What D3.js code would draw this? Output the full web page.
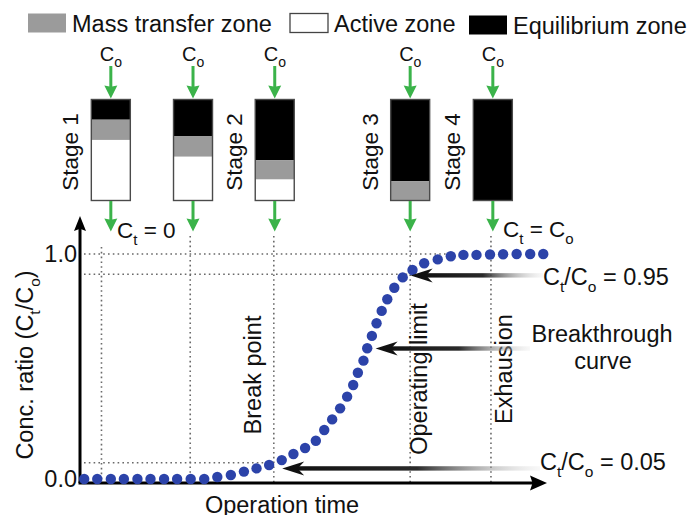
<!DOCTYPE html>
<html>
<head>
<meta charset="utf-8">
<script src="https://cdn.jsdelivr.net/npm/d3@7"></script>
<style>
  html, body { margin: 0; padding: 0; background: #fff; }
  svg { display: block; font-family: "Liberation Sans", Arial, sans-serif; }
</style>
</head>
<body>
<svg id="chart" width="693" height="515"></svg>
<script>
// breakthrough curve (arbitrary time units 0-100)
var opTime = [0.9, 3.7, 6.6, 9.4, 12.3, 15.1, 18.0, 20.8, 23.7, 26.6,
              29.4, 32.3, 35.1, 37.8, 40.5, 43.2, 45.7, 48.2, 50.5, 52.3,
              54.0, 55.7, 57.2, 58.5, 59.5, 60.7, 61.5, 62.5, 63.5, 64.6,
              65.8, 67.3, 69.1, 71.2, 73.7, 76.6, 79.4, 82.1, 84.9, 87.8,
              90.6, 93.5, 96.4, 99.2];
var concRatio = [0, 0, 0, 0, 0, 0, 0, 0, 0, 0,
                 0.009, 0.018, 0.033, 0.047, 0.062, 0.084, 0.111, 0.138, 0.170, 0.218,
                 0.265, 0.314, 0.366, 0.418, 0.472, 0.526, 0.581, 0.636, 0.692, 0.747,
                 0.799, 0.850, 0.896, 0.929, 0.959, 0.976, 0.990, 0.996, 0.996, 0.998,
                 0.999, 1, 1, 1];
var yTicks = [0, 1];
var yTickLabels = ["0.0", "1.0"];

// dotted guide lines (as drawn)
var guideTimes = [4.6, 23.6, 41.5, 70.7, 88.0];
var guideLabels = ["", "", "Break point", "Operating limit", "Exhausion"];
var guideLevels = [0.072, 0.91, 1.0];
var guideLevelEnds = [41.5, 70.7, 79.5];

// column stages
var columnTimes = [6.6, 24.2, 41.7, 70.7, 88.4];
var stageLabels = ["Stage 1", "", "Stage 2", "Stage 3", "Stage 4"];
var equilibriumFrac = [0.2, 0.365, 0.6, 0.81, 1.0];
var massTransferFrac = [0.2, 0.2, 0.19, 0.19, 0];

var legendNames = ["Mass transfer zone", "Active zone", "Equilibrium zone"];
var zoneColors = ["#9b9b9b", "#ffffff", "#000000"];

// annotation arrows: where they point (data units)
var noteTimes = [70.8, 63.3, 43.3];
var noteRatios = [0.905, 0.58, 0.047];

var svg = d3.select("#chart");
var FONT = 23.5;

var x = d3.scaleLinear().domain([0, 100]).range([80, 547]);
var y = d3.scaleLinear().domain([0, 1]).range([479, 254]);
var colY = d3.scaleLinear().domain([0, 1]).range([99.5, 200.5]);
var colW = 39;

var defs = svg.append("defs");
var grad = defs.append("linearGradient").attr("id", "fade")
    .attr("x1", "0%").attr("x2", "100%").attr("y1", "0%").attr("y2", "0%");
grad.append("stop").attr("offset", "0%").attr("stop-color", "#111");
grad.append("stop").attr("offset", "50%").attr("stop-color", "#2a2a2a");
grad.append("stop").attr("offset", "100%").attr("stop-color", "#ddd").attr("stop-opacity", 0.2);

// text with subscripts: parts = [[text, isSub], ...]
function richText(g, parts, size, subSize, subDy) {
  var t = g.append("text").attr("font-size", size).attr("fill", "#111");
  var down = false;
  parts.forEach(function (p) {
    var ts = t.append("tspan").text(p[0]);
    if (p[1]) {
      ts.attr("font-size", subSize).attr("dy", down ? 0 : subDy);
      down = true;
    } else {
      ts.attr("dy", down ? -subDy : 0);
      down = false;
    }
  });
  return t;
}

// arrow head path pointing in +x from origin tip
function headPath(len, wid, notch) {
  return "M0,0 L" + (-len) + "," + (-wid / 2) + " L" + (-len * notch) + ",0 L" + (-len) + "," + (wid / 2) + " Z";
}

// ---- legend ----
var legendX = [28, 290, 469];
var legendY = [13.5, 13.5, 15.5];
var legend = svg.append("g").selectAll("g").data(legendNames).enter().append("g");
legend.append("rect")
  .attr("x", function (d, i) { return legendX[i]; })
  .attr("y", function (d, i) { return legendY[i]; })
  .attr("width", 38).attr("height", 19)
  .attr("fill", function (d, i) { return zoneColors[i]; })
  .attr("stroke", function (d, i) { return i === 1 ? "#444" : "none"; })
  .attr("stroke-width", 1.3);
legend.append("text")
  .attr("x", function (d, i) { return legendX[i] + 44; })
  .attr("y", function (d, i) { return legendY[i] + 18.5; })
  .attr("font-size", FONT).attr("fill", "#111")
  .text(function (d) { return d; });

// ---- columns ----
var green = "#3bb34a";
columnTimes.forEach(function (t, i) {
  var cx = x(t);
  var g = svg.append("g");
  var eq = equilibriumFrac[i], mt = massTransferFrac[i];
  g.append("rect").attr("x", cx - colW / 2).attr("y", colY(0)).attr("width", colW)
    .attr("height", colY(1) - colY(0)).attr("fill", "#fff");
  g.append("rect").attr("x", cx - colW / 2).attr("y", colY(0)).attr("width", colW)
    .attr("height", colY(eq) - colY(0)).attr("fill", zoneColors[2]);
  if (mt > 0) {
    g.append("rect").attr("x", cx - colW / 2).attr("y", colY(eq)).attr("width", colW)
      .attr("height", colY(eq + mt) - colY(eq)).attr("fill", zoneColors[0]);
  }
  g.append("rect").attr("x", cx - colW / 2).attr("y", colY(0)).attr("width", colW)
    .attr("height", colY(1) - colY(0)).attr("fill", "none")
    .attr("stroke", "#4a4a4a").attr("stroke-width", 1.4);

  // inlet arrow + C_o
  g.append("line").attr("x1", cx).attr("x2", cx).attr("y1", 66).attr("y2", 88)
    .attr("stroke", green).attr("stroke-width", 3);
  g.append("path").attr("d", headPath(13, 13, 0.9))
    .attr("transform", "translate(" + cx + ",98.5) rotate(90)").attr("fill", green);
  richText(g, [["C", false], ["o", true]], 20, 14, 6.5)
    .attr("x", cx - 11).attr("y", 60.5);

  // outlet arrow
  g.append("line").attr("x1", cx).attr("x2", cx).attr("y1", 201).attr("y2", 221)
    .attr("stroke", green).attr("stroke-width", 3);
  g.append("path").attr("d", headPath(13, 13, 0.9))
    .attr("transform", "translate(" + cx + ",231.5) rotate(90)").attr("fill", green);

  if (stageLabels[i]) {
    g.append("text")
      .attr("transform", "translate(" + (cx - colW / 2 - 13) + ",152) rotate(-90)")
      .attr("text-anchor", "middle").attr("font-size", 22.5).attr("fill", "#111")
      .text(stageLabels[i]);
  }
});

richText(svg, [["C", false], ["t", true], [" = 0", false]], 22.5, 15, 7)
  .attr("x", 117).attr("y", 238);
richText(svg, [["C", false], ["t", true], [" = C", false], ["o", true]], 22.5, 15, 7)
  .attr("x", 503).attr("y", 237);

// ---- guides ----
var dot = { stroke: "#6a6a6a", width: 1.6, dash: "1.6,3.2" };
svg.append("g").selectAll("line").data(guideTimes).enter().append("line")
  .attr("x1", function (d) { return x(d); }).attr("x2", function (d) { return x(d); })
  .attr("y1", function (d, i) { return i === 0 ? 247 : 236; }).attr("y2", y(0) + 4)
  .attr("stroke", dot.stroke).attr("stroke-width", dot.width).attr("stroke-dasharray", dot.dash);
svg.append("g").selectAll("line").data(guideLevels).enter().append("line")
  .attr("x1", 84).attr("x2", function (d, i) { return x(guideLevelEnds[i]); })
  .attr("y1", function (d) { return y(d); }).attr("y2", function (d) { return y(d); })
  .attr("stroke", dot.stroke).attr("stroke-width", dot.width).attr("stroke-dasharray", dot.dash);

var labelShift = [0, 0, -12.5, 17, 21];
var labelMid = [0, 0, 375, 379, 369];
guideTimes.forEach(function (t, i) {
  if (!guideLabels[i]) return;
  svg.append("text")
    .attr("transform", "translate(" + (x(t) + labelShift[i]) + "," + labelMid[i] + ") rotate(-90)")
    .attr("text-anchor", "middle").attr("font-size", FONT).attr("fill", "#111")
    .text(guideLabels[i]);
});

// ---- axes ----
var axes = svg.append("g");
axes.append("line").attr("x1", x(0)).attr("x2", x(0)).attr("y1", 483).attr("y2", 228)
  .attr("stroke", "#000").attr("stroke-width", 3);
axes.append("path").attr("d", headPath(15, 12, 0.85))
  .attr("transform", "translate(" + x(0) + ",216) rotate(-90)").attr("fill", "#000");
axes.append("line").attr("x1", x(0) - 1.5).attr("x2", 534).attr("y1", 483).attr("y2", 483)
  .attr("stroke", "#000").attr("stroke-width", 3);
axes.append("path").attr("d", headPath(17, 15, 0.85))
  .attr("transform", "translate(547,483)").attr("fill", "#000");

svg.append("g").selectAll("text").data(yTicks).enter().append("text")
  .attr("x", 77).attr("y", function (d) { return y(d) + 8; })
  .attr("text-anchor", "end").attr("font-size", FONT).attr("fill", "#111")
  .text(function (d, i) { return yTickLabels[i]; });

richText(svg, [["Conc. ratio (C", false], ["t", true], ["/C", false], ["o", true], [")", false]], FONT, 15.5, 7)
  .attr("transform", "translate(33,365) rotate(-90)").attr("text-anchor", "middle");

svg.append("text").attr("x", 282).attr("y", 513).attr("text-anchor", "middle")
  .attr("font-size", FONT).attr("fill", "#111").text("Operation time");

// ---- curve points ----
svg.append("g").selectAll("circle").data(opTime).enter().append("circle")
  .attr("cx", function (d) { return x(d); })
  .attr("cy", function (d, i) { return y(concRatio[i]); })
  .attr("r", 5.2).attr("fill", "#2c43a9");

// ---- annotation arrows ----
var noteTails = [543, 530, 540];
noteTimes.forEach(function (t, i) {
  var tx = x(t), ty = y(noteRatios[i]);
  var g = svg.append("g");
  g.append("rect").attr("x", tx + 12).attr("y", ty - 2.2)
    .attr("width", noteTails[i] - tx - 12).attr("height", 4.4).attr("fill", "url(#fade)");
  g.append("path").attr("d", headPath(22, 14, 0.7))
    .attr("transform", "translate(" + tx + "," + ty + ") rotate(180)").attr("fill", "#111");
});

richText(svg, [["C", false], ["t", true], ["/C", false], ["o", true], [" = 0.95", false]], FONT, 15.5, 7)
  .attr("x", 543).attr("y", 285);
svg.append("text").attr("x", 602).attr("y", 342).attr("text-anchor", "middle")
  .attr("font-size", FONT).attr("fill", "#111").text("Breakthrough");
svg.append("text").attr("x", 603).attr("y", 369).attr("text-anchor", "middle")
  .attr("font-size", FONT).attr("fill", "#111").text("curve");
richText(svg, [["C", false], ["t", true], ["/C", false], ["o", true], [" = 0.05", false]], FONT, 15.5, 7)
  .attr("x", 540).attr("y", 470);
</script>
</body>
</html>
